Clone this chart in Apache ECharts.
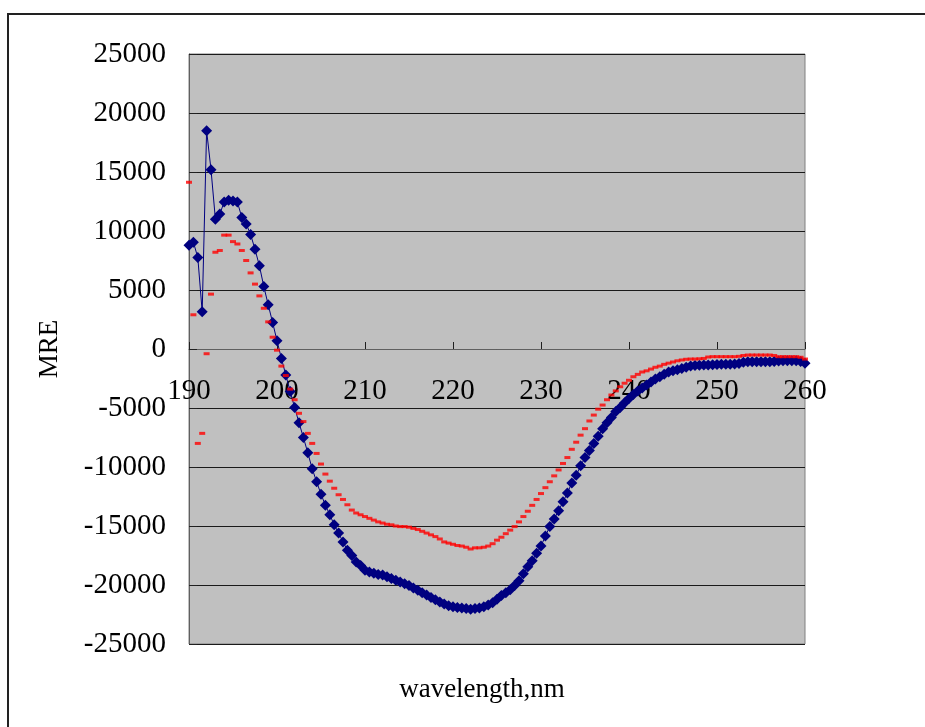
<!DOCTYPE html>
<html>
<head>
<meta charset="utf-8">
<script src="https://cdn.jsdelivr.net/npm/echarts@6/dist/echarts.min.js"></script>
<style>
  html, body { margin: 0; padding: 0; background: #ffffff; }
  #chart { width: 925px; height: 727px; }
</style>
</head>
<body>
<div id="chart"></div>
<script>
// Wavelength grid (nm), 0.5 nm steps
const wavelength = [
  190, 190.5, 191, 191.5, 192, 192.5, 193, 193.5, 194, 194.5,
  195, 195.5, 196, 196.5, 197, 197.5, 198, 198.5, 199, 199.5,
  200, 200.5, 201, 201.5, 202, 202.5, 203, 203.5, 204, 204.5,
  205, 205.5, 206, 206.5, 207, 207.5, 208, 208.5, 209, 209.5,
  210, 210.5, 211, 211.5, 212, 212.5, 213, 213.5, 214, 214.5,
  215, 215.5, 216, 216.5, 217, 217.5, 218, 218.5, 219, 219.5,
  220, 220.5, 221, 221.5, 222, 222.5, 223, 223.5, 224, 224.5,
  225, 225.5, 226, 226.5, 227, 227.5, 228, 228.5, 229, 229.5,
  230, 230.5, 231, 231.5, 232, 232.5, 233, 233.5, 234, 234.5,
  235, 235.5, 236, 236.5, 237, 237.5, 238, 238.5, 239, 239.5,
  240, 240.5, 241, 241.5, 242, 242.5, 243, 243.5, 244, 244.5,
  245, 245.5, 246, 246.5, 247, 247.5, 248, 248.5, 249, 249.5,
  250, 250.5, 251, 251.5, 252, 252.5, 253, 253.5, 254, 254.5,
  255, 255.5, 256, 256.5, 257, 257.5, 258, 258.5, 259, 259.5,
  260
];

// Mean residue ellipticity, first sample (navy diamonds)
const mreBlue = [
  8800, 9050, 7750, 3150, 18500, 15200, 11000, 11450, 12450, 12600,
  12550, 12450, 11150, 10600, 9700, 8450, 7050, 5300, 3750, 2250,
  700, -800, -2200, -3600, -4950, -6250, -7500, -8800, -10150, -11250,
  -12300, -13250, -14050, -14900, -15600, -16350, -17050, -17500, -18050, -18350,
  -18750, -18900, -19000, -19100, -19150, -19300, -19450, -19600, -19750, -19900,
  -20050, -20250, -20450, -20650, -20850, -21050, -21250, -21450, -21600, -21750,
  -21850, -21900, -21950, -22000, -22050, -22000, -21950, -21850, -21700, -21500,
  -21200, -20900, -20650, -20400, -20050, -19650, -19050, -18450, -17950, -17300,
  -16700, -15850, -15050, -14400, -13700, -12950, -12200, -11350, -10700, -9900,
  -9200, -8600, -8000, -7400, -6750, -6250, -5800, -5300, -4950, -4550,
  -4200, -3850, -3550, -3300, -3050, -2800, -2550, -2350, -2150, -1950,
  -1850, -1750, -1650, -1550, -1450, -1400, -1380, -1360, -1360, -1340,
  -1320, -1300, -1300, -1300, -1270, -1220, -1120, -1080, -1080, -1080,
  -1080, -1080, -1080, -1050, -1020, -1000, -990, -990, -990, -1050,
  -1210
];

// Mean residue ellipticity, second sample (red dashes)
const mreRed = [
  14130, 2900, -8000, -7150, -400, 4650, 8200, 8350, 9650, 9650,
  9100, 8900, 8350, 7500, 6450, 5500, 4500, 3450, 2300, 1000,
  -100, -1450, -2250, -3400, -4300, -5450, -6150, -7150, -8000, -8850,
  -9750, -10600, -11200, -11800, -12350, -12750, -13200, -13650, -13900, -14050,
  -14200, -14350, -14500, -14650, -14750, -14850, -14900, -15000, -15050, -15050,
  -15100, -15200, -15300, -15450, -15600, -15750, -15900, -16100, -16350, -16450,
  -16550, -16650, -16700, -16800, -16950, -16850, -16850, -16800, -16700, -16500,
  -16200, -15950, -15650, -15350, -15050, -14650, -14200, -13750, -13250, -12750,
  -12250, -11750, -11250, -10750, -10250, -9700, -9200, -8500, -7900, -7300,
  -6750, -6100, -5600, -5100, -4750, -4300, -3900, -3550, -3200, -2900,
  -2650, -2350, -2150, -1950, -1850, -1700, -1550, -1450, -1300, -1200,
  -1100, -1000, -930, -870, -850, -850, -830, -800, -680, -650,
  -650, -650, -650, -650, -650, -620, -550, -510, -510, -510,
  -510, -510, -510, -550, -650, -650, -650, -650, -650, -700,
  -850
];

const xTicks = { min: 190, max: 260, step: 10 };
const yTicks = { min: -25000, max: 25000, step: 5000 };

const pairs = (xs, ys) => xs.map((x, i) => [x, ys[i]]);
const serif = '"Liberation Serif", "Times New Roman", serif';
const plain = (v) => String(v);

// plot box
const plot = { left: 189, top: 54, width: 616, height: 590 };
// lift the wavelength axis from the bottom edge up to MRE = 0
const zeroLift = -plot.height * (0 - yTicks.min) / (yTicks.max - yTicks.min);

const chart = echarts.init(document.getElementById('chart'), null, { renderer: 'canvas' });

chart.setOption({
  animation: false,
  backgroundColor: '#ffffff',
  grid: {
    left: plot.left, top: plot.top, width: plot.width, height: plot.height,
    show: true,
    backgroundColor: '#C0C0C0',
    borderColor: '#808080',
    borderWidth: 1
  },
  xAxis: {
    type: 'value',
    position: 'bottom',
    offset: zeroLift,
    min: xTicks.min, max: xTicks.max, interval: xTicks.step,
    axisLine: { show: true, onZero: false, lineStyle: { color: '#606060', width: 1 } },
    axisTick: { show: true, inside: true, length: 7, lineStyle: { color: '#202020' } },
    axisLabel: { color: '#000', fontFamily: serif, fontSize: 29, margin: 28, formatter: plain },
    splitLine: { show: false }
  },
  yAxis: {
    type: 'value',
    min: yTicks.min, max: yTicks.max, interval: yTicks.step,
    axisLine: { show: true, lineStyle: { color: '#606060', width: 1 } },
    axisTick: { show: true, inside: true, length: 8, lineStyle: { color: '#202020' } },
    axisLabel: { color: '#000', fontFamily: serif, fontSize: 29, margin: 23, formatter: plain },
    splitLine: { show: true, lineStyle: { color: '#1a1a1a', width: 1 } }
  },
  series: [
    {
      name: 'sample 1',
      type: 'line',
      data: pairs(wavelength, mreBlue),
      symbol: 'diamond',
      symbolSize: 11,
      showAllSymbol: true,
      itemStyle: { color: '#000080' },
      lineStyle: { color: '#000080', width: 1 },
      z: 2
    },
    {
      name: 'sample 2',
      type: 'scatter',
      data: pairs(wavelength, mreRed),
      symbol: 'rect',
      symbolSize: [6, 3],
      itemStyle: { color: '#FF0000' },
      z: 3
    }
  ],
  graphic: [
    {
      type: 'rect',
      shape: { x: 8, y: 14, width: 940, height: 740 },
      style: { fill: 'none', stroke: '#222', lineWidth: 2 },
      silent: true
    },
    {
      type: 'text',
      x: 50, y: 349,
      rotation: Math.PI / 2,
      style: {
        text: 'MRE', fill: '#000', font: '27px ' + serif,
        textAlign: 'center', textVerticalAlign: 'middle'
      }
    },
    {
      type: 'text',
      x: 482, y: 690,
      style: {
        text: 'wavelength,nm', fill: '#000', font: '27px ' + serif,
        textAlign: 'center', textVerticalAlign: 'middle'
      }
    }
  ]
});
</script>
</body>
</html>
